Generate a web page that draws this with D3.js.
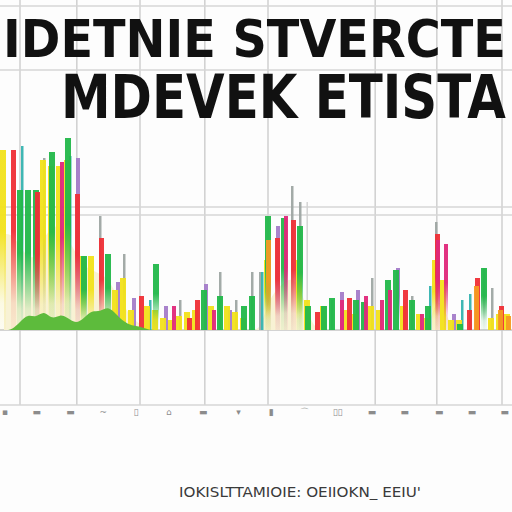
<!DOCTYPE html>
<html><head><meta charset="utf-8">
<script src="https://cdn.jsdelivr.net/npm/d3@7"></script>
<style>html,body{margin:0;padding:0;background:#fdfdfd;overflow:hidden}</style>
</head><body><div id="chart"></div>
<script>
const titleLines = ["IDETNIE STVERCTE", "MDEVEK ETISTA"];
const caption = "IOKISLTTAMIOIE: OEIIOKN_ EEIU'";
const slots = d3.range(64).map(i => "s" + i);
const yellow = [90,0,0,0,0,85,82,82,85,0, 37,37,0,0,20,26,10,0,12,10, 6,5,7,9,10,0,12,0,12,9, 6,0,0,35,0,0,0,35,15,0, 12,0,0,10,8,0,12,10,0,0, 12,0,8,6,35,25,5,5,0,0, 0,6,8,8];
const red    = [0,90,0,0,69,0,0,0,0,68, 0,0,46,0,0,0,0,17,0,0, 0,0,0,6,15,0,0,0,0,0, 0,0,0,0,46,0,55,0,0,9, 0,0,0,16,0,0,0,0,0,0, 20,0,0,0,48,0,0,0,10,26, 0,0,12,0];
const green  = [0,0,70,70,70,0,89,0,96,0, 37,0,0,38,0,0,0,0,0,33, 0,0,0,0,0,20,0,17,0,0, 12,17,0,57,0,56,0,52,12,0, 12,16,0,0,15,14,0,0,25,30, 0,15,0,12,0,0,0,3,0,0, 31,0,0,0];
const magenta= [0,0,0,0,0,0,0,84,0,0, 0,0,0,0,0,0,0,0,0,0, 0,12,0,0,0,0,10,0,0,0, 0,0,0,0,0,57,0,0,0,0, 0,0,15,0,0,17,0,15,20,0, 0,0,8,0,45,43,0,0,0,0, 0,0,0,0];
const purple = [0,0,0,0,0,0,0,0,0,86, 0,0,0,0,24,0,16,0,0,0, 12,0,0,0,0,23,0,0,10,0, 0,0,0,0,52,0,0,0,0,0, 0,0,19,0,20,0,0,0,0,31, 0,0,0,0,0,0,8,0,0,0, 0,0,0,0];
const grey   = [0,0,0,0,0,86,0,0,0,0, 0,0,57,0,0,38,0,0,0,0, 0,0,15,0,0,0,0,29,0,15, 0,29,29,0,0,0,72,64,0,0, 0,15,0,0,0,0,26,0,0,0, 0,17,0,0,54,0,0,0,0,0, 31,21,0,0];
const teal   = [0,0,92,0,0,0,0,0,87,0, 0,0,0,0,0,0,0,0,15,0, 0,0,0,0,0,0,0,0,0,0, 0,0,29,0,0,0,0,0,0,0, 0,0,0,0,0,0,0,0,0,0, 0,0,0,22,0,0,0,15,18,0, 0,0,0,0];
const orange = [0,0,0,0,0,0,0,0,0,0, 0,0,0,0,0,0,0,0,0,0, 0,0,0,0,0,0,0,0,0,0, 0,0,0,45,0,0,0,0,0,0, 0,0,0,0,0,0,0,0,0,0, 0,0,0,0,0,0,0,0,0,22, 0,0,10,7];
const greenBase = [0,0,4,8,6,10,5,8,6,3, 6,10,9,12,8,4,2,2,0,0, 0,0,0,0,0,0,0,0,0,0, 0,0,0,0,0,0,0,0,0,0, 0,0,0,0,0,0,0,0,0,0, 0,0,0,0,0,0,0,0,0,0, 0,0,0,0];
const creamBase = [48,48,42,36,36,46,52,52,46,38, 32,30,28,26,18,12,6,3,0,0, 0,0,0,0,0,0,0,0,0,0, 0,0,0,14,20,24,26,22,8,0, 0,0,0,0,0,0,0,0,0,0, 0,0,0,0,16,12,0,0,0,0, 0,0,0,0];
const gridY = [162, 130, 61.5, 57.5, 0, -37.5];
const gridX = [2.5, 9.6, 17.5, 25.6, 33.5, 46.9, 54.6, 62.75];
const tickSlots = [0.4,4.6,8.8,12.9,17.0,21.1,25.4,29.8,33.9,38.0,42.2,46.5,50.6,54.9,59.0,63.1];
const tickLabels = ["▪","▬","▬","~","▯","⌂","▬","▾","▮","⌒","▯▯","▬","▬","▬","▬","▬"];

const W = 512, H = 512;
const svg = d3.select("#chart").append("svg").attr("width", W).attr("height", H);
svg.append("rect").attr("width", W).attr("height", H).attr("fill", "#fdfdfd");

const x = d3.scaleBand().domain(slots).range([0, 512]).padding(0);
const xl = d3.scaleLinear().domain([0, 64]).range([0, 512]);
const y = d3.scaleLinear().domain([0, 100]).range([330, 130]);

// gridlines
svg.append("g").selectAll("line").data(gridX).join("line")
  .attr("x1", d => xl(d)).attr("x2", d => xl(d)).attr("y1", 0).attr("y2", y(-37.5))
  .attr("stroke", "#d2d2d2").attr("stroke-width", 1.6);
svg.append("g").selectAll("line").data(gridY).join("line")
  .attr("x1", 0).attr("x2", W).attr("y1", d => y(d)).attr("y2", d => y(d))
  .attr("stroke", d => d === 0 ? "#c4c4c4" : "#d6d6d6").attr("stroke-width", 1.6);
svg.append("line").attr("x1", xl(38.4)).attr("x2", xl(38.4)).attr("y1", y(64)).attr("y2", y(0))
  .attr("stroke", "#d2d2d2").attr("stroke-width", 1.4);

// cream glow under the bars
const area = d3.area().x((d, i) => x(slots[i]) + x.bandwidth() / 2).y0(y(0)).y1(d => y(d)).curve(d3.curveBasis);
svg.append("path").datum(creamBase).attr("d", area).attr("fill", "#f8f2d4");

const series = [
  {name: "grey", vals: grey, color: "#9ea6a3", off: 3, w: 2.5},
  {name: "teal", vals: teal, color: "#35b3b0", off: 5, w: 2.5},
  {name: "purple", vals: purple, color: "#a47cc9", off: 4, w: 4},
  {name: "yellow", vals: yellow, color: "#f2e21a", off: 0, w: 6},
  {name: "green", vals: green, color: "#22b84a", off: 1, w: 6},
  {name: "red", vals: red, color: "#ef2f36", off: 3, w: 5},
  {name: "magenta", vals: magenta, color: "#e0287a", off: 4, w: 4},
  {name: "orange", vals: orange, color: "#f59a22", off: 2, w: 5}
];
const defs = svg.append("defs");
series.forEach(s => {
  const g = defs.append("linearGradient").attr("id", "g_" + s.name)
    .attr("x1", 0).attr("y1", 0).attr("x2", 0).attr("y2", 1);
  g.append("stop").attr("offset", 0).attr("stop-color", s.color);
  g.append("stop").attr("offset", 0.45).attr("stop-color", s.color);
  g.append("stop").attr("offset", 0.85).attr("stop-color", s.color).attr("stop-opacity", 0.12);
  g.append("stop").attr("offset", 1).attr("stop-color", s.color).attr("stop-opacity", 0.05);
});
const bars = svg.append("g");
series.forEach(s => {
  bars.append("g").selectAll("rect")
    .data(s.vals.map((v, i) => ({v, slot: slots[i]})).filter(d => d.v > 0))
    .join("rect")
    .attr("x", d => x(d.slot) + s.off * x.bandwidth() / 8)
    .attr("width", s.w * x.bandwidth() / 8)
    .attr("y", d => y(d.v))
    .attr("height", d => y(0) - y(d.v))
    .attr("fill", d => d.v > 30 ? `url(#g_${s.name})` : s.color)
    .attr("opacity", 0.95);
});
svg.append("path").datum(greenBase).attr("d", area).attr("fill", "#5dbb3c");

// tick labels
svg.append("g").selectAll("text").data(tickSlots).join("text")
  .attr("x", d => Math.min(Math.max(xl(d), 5), 506)).attr("y", 415).attr("text-anchor", "middle")
  .attr("font-family", "DejaVu Sans").attr("font-size", 9).attr("fill", "#8c8c8c")
  .text((d, i) => tickLabels[i]);

// title: fitted by horizontal scaling
function fitTitle(str, tx, ty, size, width) {
  const t = svg.append("text").attr("x", 0).attr("y", 0).attr("font-family", "DejaVu Sans")
    .attr("font-weight", "bold").attr("font-size", size).attr("fill", "#111").text(str);
  const w = t.node().getComputedTextLength();
  t.attr("transform", `translate(${tx},${ty}) scale(${width / w},1)`);
}
fitTitle(titleLines[0], 3, 57, 52, 503);
fitTitle(titleLines[1], 61, 118, 60, 445);

// caption
svg.append("text").attr("x", 300).attr("y", 497).attr("text-anchor", "middle")
  .attr("font-family", "DejaVu Sans Condensed, DejaVu Sans").attr("font-size", 14).attr("fill", "#3a3a3a")
  .attr("textLength", 242).attr("lengthAdjust", "spacingAndGlyphs").text(caption);
</script></body></html>
